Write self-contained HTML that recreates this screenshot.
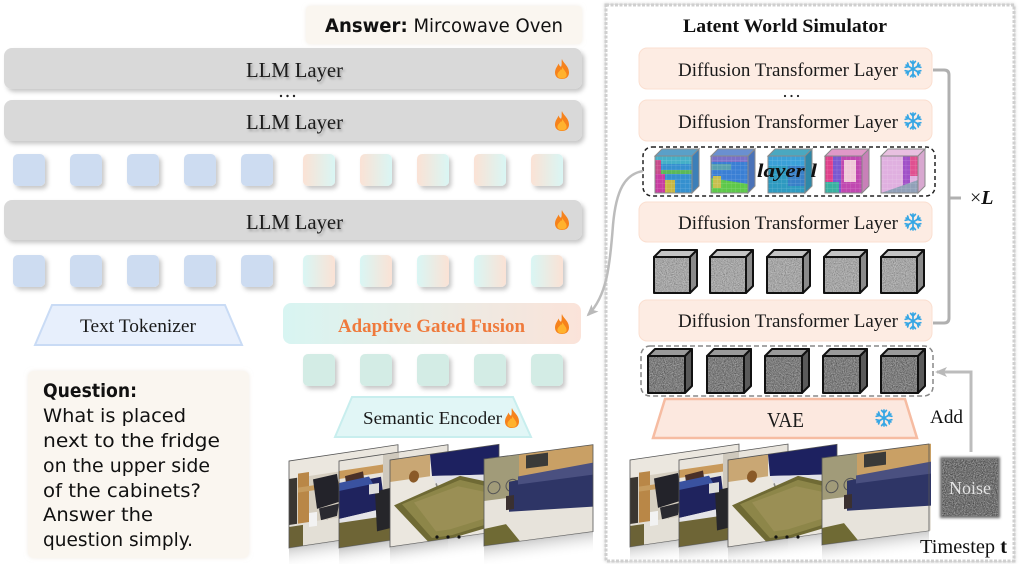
<!DOCTYPE html>
<html><head><meta charset="utf-8"><style>
html,body{margin:0;padding:0;background:#fff;}
svg{display:block;}
</style></head><body>
<svg width="1020" height="564" viewBox="0 0 1020 564" xmlns="http://www.w3.org/2000/svg" xmlns:xlink="http://www.w3.org/1999/xlink" font-family="'Liberation Serif', serif">
<defs>
  <filter id="sh" x="-5%" y="-20%" width="115%" height="160%">
    <feDropShadow dx="2.5" dy="3" stdDeviation="2" flood-color="#000" flood-opacity="0.22"/>
  </filter>
  <filter id="tsh" x="-10%" y="-30%" width="130%" height="170%">
    <feDropShadow dx="1.5" dy="2" stdDeviation="1.2" flood-color="#000" flood-opacity="0.28"/>
  </filter>
  <filter id="soft" x="-5%" y="-10%" width="110%" height="120%">
    <feDropShadow dx="0" dy="0" stdDeviation="2" flood-color="#e8e0d4" flood-opacity="0.6"/>
  </filter>
  <filter id="outer" x="-3%" y="-3%" width="106%" height="106%">
    <feDropShadow dx="0" dy="0" stdDeviation="1.5" flood-color="#000" flood-opacity="0.18"/>
  </filter>
  <filter id="grainD" x="0" y="0" width="100%" height="100%">
    <feTurbulence type="fractalNoise" baseFrequency="0.9" numOctaves="3" seed="4" result="t"/>
    <feColorMatrix in="t" type="matrix" values="0 0 0 0 0  0 0 0 0 0  0 0 0 0 0  2.2 0 0 0 -0.85" result="n"/>
    <feComposite in="n" in2="SourceGraphic" operator="in"/>
  </filter>
  <filter id="grainL" x="0" y="0" width="100%" height="100%">
    <feTurbulence type="fractalNoise" baseFrequency="0.9" numOctaves="3" seed="9" result="t"/>
    <feColorMatrix in="t" type="matrix" values="0 0 0 0 1  0 0 0 0 1  0 0 0 0 1  0 2.2 0 0 -0.85" result="n"/>
    <feComposite in="n" in2="SourceGraphic" operator="in"/>
  </filter>
  <filter id="blur1"><feGaussianBlur stdDeviation="1.2"/></filter>
  <linearGradient id="g1" x1="0" x2="1" y1="0" y2="0"><stop offset="0" stop-color="#fbe2d5"/><stop offset="1" stop-color="#d9f6f4"/></linearGradient>
  <linearGradient id="g2" x1="0" x2="1" y1="0" y2="0"><stop offset="0" stop-color="#d9f6f4"/><stop offset="1" stop-color="#fbe2d5"/></linearGradient>
  <linearGradient id="agf" x1="0" x2="1" y1="0" y2="0"><stop offset="0" stop-color="#d8f5f2"/><stop offset="1" stop-color="#fbe3d9"/></linearGradient>
  <linearGradient id="refl" x1="0" x2="0" y1="0" y2="1"><stop offset="0" stop-color="#b8b8b8" stop-opacity="0.7"/><stop offset="1" stop-color="#ffffff" stop-opacity="0"/></linearGradient>
  <pattern id="grid" width="4.6" height="4.6" patternUnits="userSpaceOnUse">
    <path d="M4.6,0V4.6H0" fill="none" stroke="#ffffff" stroke-opacity="0.28" stroke-width="0.6"/>
  </pattern>
  <marker id="ah" markerWidth="12" markerHeight="10" refX="10" refY="5" orient="auto" markerUnits="userSpaceOnUse">
    <path d="M0,0 L12,5 L0,10 L3,5Z" fill="#b9b9b9"/>
  </marker>
  <g id="flame">
    <path d="M0,-10 C1,-6 7,-3 7,3.5 C7,8 3.8,10 0,10 C-3.8,10 -7,8 -7,3.5 C-7,-0.5 -4.5,-2.5 -3.5,-5.5 C-2.5,-3 -1.5,-2 -0.8,-2.5 C0.2,-5 -0.8,-8 0,-10Z" fill="#f6821c"/>
    <path d="M0.3,-2 C2,1.5 4.6,3 4.6,6 C4.6,8.4 2.4,9.4 0,9.4 C-2.4,9.4 -4.6,8.4 -4.6,6 C-4.6,3.2 -2,2.2 -1.2,0.2 C-0.6,1.2 0,1 0.3,-2Z" fill="#ffb22e"/>
  </g>
  <g id="snow" stroke="#35a6e4" stroke-width="1.7" stroke-linecap="round" fill="none">
    <path d="M0,-8V8M-6.9,-4L6.9,4M-6.9,4L6.9,-4"/>
    <path d="M-2.4,-7.6L0,-5L2.4,-7.6"/>
    <path d="M-2.4,-7.6L0,-5L2.4,-7.6" transform="rotate(60)"/>
    <path d="M-2.4,-7.6L0,-5L2.4,-7.6" transform="rotate(120)"/>
    <path d="M-2.4,-7.6L0,-5L2.4,-7.6" transform="rotate(180)"/>
    <path d="M-2.4,-7.6L0,-5L2.4,-7.6" transform="rotate(240)"/>
    <path d="M-2.4,-7.6L0,-5L2.4,-7.6" transform="rotate(300)"/>
  </g>
  <clipPath id="fc"><rect x="0" y="0" width="109" height="87"/></clipPath>
  <g id="frA">
    <rect x="0" y="0" width="109" height="87" fill="#d6cfc1"/>
    <rect x="0" y="0" width="109" height="18" fill="#ebe7df"/>
    <rect x="0" y="18" width="8" height="52" fill="#3a3631"/>
    <rect x="9" y="14" width="11" height="58" fill="#b98747"/>
    <rect x="9" y="28" width="45" height="5" fill="#c69c5f"/>
    <path d="M24,22 L48,20 L52,48 L28,52Z" fill="#23232a"/>
    <path d="M30,52 L50,50 L48,62 L32,64Z" fill="#2a2a30"/>
    <path d="M38,64 L38,74 M30,76 L46,72" stroke="#222" stroke-width="2"/>
    <rect x="0" y="64" width="109" height="23" fill="#e3dfd6"/>
    <rect x="0" y="66" width="14" height="21" fill="#6b6236"/>
    <rect x="20" y="55" width="8" height="14" fill="#f2f2f2"/>
  </g>
  <g id="frB">
    <rect x="0" y="0" width="109" height="87" fill="#e8e4dc"/>
    <rect x="0" y="10" width="109" height="8" fill="#c99a5b"/>
    <rect x="44" y="0" width="16" height="40" fill="#cfc9bd"/>
    <path d="M6,16 L24,14 L26,28 L8,30Z" fill="#4a3028"/>
    <path d="M0,24 L42,22 L46,54 L0,58Z" fill="#1f235e"/>
    <path d="M0,22 L30,20 L34,28 L0,30Z" fill="#3a52a0"/>
    <path d="M0,58 L46,54 L46,62 L0,66Z" fill="#e4e4e8"/>
    <rect x="0" y="62" width="109" height="25" fill="#6e6536"/>
    <path d="M36,36 L58,34 L60,74 L38,76Z" fill="#26262a"/>
    <rect x="30" y="28" width="10" height="10" fill="#dcdcdc"/>
  </g>
  <g id="frC">
    <rect x="0" y="0" width="109" height="87" fill="#ebe7df"/>
    <rect x="0" y="0" width="40" height="22" fill="#c9a774"/>
    <rect x="40" y="0" width="69" height="10" fill="#e6e0d2"/>
    <ellipse cx="24" cy="20" rx="5" ry="6" fill="#8a5a28"/>
    <path d="M40,0 L109,0 L109,30 L42,22Z" fill="#1d2160"/>
    <path d="M42,22 L109,30 L109,38 L46,30Z" fill="#e2e2e8"/>
    <path d="M46,30 L48,36 M106,38 L106,44" stroke="#888" stroke-width="1.5"/>
    <path d="M4,46 L70,26 L109,40 L109,80 L62,87 L38,87Z" fill="#6f6a34"/>
    <path d="M12,46 L70,30 L104,43 L104,77 L62,84 L42,84Z" fill="#8d8649"/>
    <path d="M24,46 L68,36 L96,46 L96,72 L60,78 L46,78Z" fill="#9a8f55"/>
  </g>
  <g id="frD">
    <rect x="0" y="0" width="109" height="87" fill="#e7e3db"/>
    <rect x="0" y="0" width="109" height="40" fill="#c9a065"/>
    <rect x="0" y="0" width="35" height="42" fill="#a19b79"/>
    <rect x="42" y="2" width="22" height="13" fill="#3a3a38"/>
    <circle cx="10" cy="30" r="6" fill="none" stroke="#555" stroke-width="1"/>
    <circle cx="28" cy="30" r="6" fill="none" stroke="#555" stroke-width="1"/>
    <path d="M25,26 L109,22 L109,62 L25,56Z" fill="#2e3566"/>
    <path d="M34,22 L109,18 L109,30 L34,30Z" fill="#4a5080"/>
    <rect x="22" y="40" width="8" height="14" fill="#3a3030"/>
    <path d="M0,70 L22,68 L36,87 L0,87Z" fill="#6f6a34"/>
  </g>
</defs>

<!-- ================= LEFT PANEL ================= -->
<rect x="306" y="6" width="276" height="38" rx="4" fill="#faf6f0" filter="url(#soft)"/>
<text x="325" y="32" font-family="'DejaVu Sans', sans-serif" font-size="19" fill="#111" textLength="238" lengthAdjust="spacingAndGlyphs"><tspan font-weight="bold">Answer:</tspan> Mircowave Oven</text>

<rect x="4" y="48" width="578" height="41" rx="8" fill="#d9d9d9" filter="url(#sh)"/>
<rect x="4" y="100" width="578" height="41" rx="8" fill="#d9d9d9" filter="url(#sh)"/>
<rect x="4" y="200" width="578" height="40" rx="8" fill="#d9d9d9" filter="url(#sh)"/>
<g font-size="21" fill="#1a1a1a" filter="url(#tsh)">
  <text x="246" y="77" textLength="97" lengthAdjust="spacingAndGlyphs">LLM Layer</text>
  <text x="246" y="129" textLength="97" lengthAdjust="spacingAndGlyphs">LLM Layer</text>
  <text x="246" y="229" textLength="97" lengthAdjust="spacingAndGlyphs">LLM Layer</text>
</g>
<use href="#flame" xlink:href="#flame" x="562" y="69"/>
<use href="#flame" xlink:href="#flame" x="562" y="121"/>
<use href="#flame" xlink:href="#flame" x="562" y="220"/>
<g fill="#222"><circle cx="281" cy="96" r="1.2"/><circle cx="287.5" cy="96" r="1.2"/><circle cx="294" cy="96" r="1.2"/></g>

<g filter="url(#sh)">
  <rect x="13" y="154" width="32" height="32" rx="5" fill="#cddcf1"/>
  <rect x="70" y="154" width="32" height="32" rx="5" fill="#cddcf1"/>
  <rect x="127" y="154" width="32" height="32" rx="5" fill="#cddcf1"/>
  <rect x="184" y="154" width="32" height="32" rx="5" fill="#cddcf1"/>
  <rect x="241" y="154" width="32" height="32" rx="5" fill="#cddcf1"/>
  <rect x="303" y="154" width="32" height="32" rx="5" fill="url(#g1)"/>
  <rect x="360" y="154" width="32" height="32" rx="5" fill="url(#g1)"/>
  <rect x="417" y="154" width="32" height="32" rx="5" fill="url(#g1)"/>
  <rect x="474" y="154" width="32" height="32" rx="5" fill="url(#g1)"/>
  <rect x="531" y="154" width="32" height="32" rx="5" fill="url(#g1)"/>

  <rect x="13" y="255" width="32" height="32" rx="5" fill="#cddcf1"/>
  <rect x="70" y="255" width="32" height="32" rx="5" fill="#cddcf1"/>
  <rect x="127" y="255" width="32" height="32" rx="5" fill="#cddcf1"/>
  <rect x="184" y="255" width="32" height="32" rx="5" fill="#cddcf1"/>
  <rect x="241" y="255" width="32" height="32" rx="5" fill="#cddcf1"/>
  <rect x="303" y="255" width="32" height="32" rx="5" fill="url(#g2)"/>
  <rect x="360" y="255" width="32" height="32" rx="5" fill="url(#g2)"/>
  <rect x="417" y="255" width="32" height="32" rx="5" fill="url(#g2)"/>
  <rect x="474" y="255" width="32" height="32" rx="5" fill="url(#g2)"/>
  <rect x="531" y="255" width="32" height="32" rx="5" fill="url(#g2)"/>

  <rect x="303" y="354" width="32" height="32" rx="5" fill="#d3ece5"/>
  <rect x="360" y="354" width="32" height="32" rx="5" fill="#d3ece5"/>
  <rect x="417" y="354" width="32" height="32" rx="5" fill="#d3ece5"/>
  <rect x="474" y="354" width="32" height="32" rx="5" fill="#d3ece5"/>
  <rect x="531" y="354" width="32" height="32" rx="5" fill="#d3ece5"/>
</g>

<polygon points="52,305 225,305 242,345 35,345" fill="#e7effc" stroke="#c9dbf5" stroke-width="2"/>
<text x="80" y="332" font-size="19" fill="#1a1a1a" textLength="116" lengthAdjust="spacingAndGlyphs">Text Tokenizer</text>

<rect x="283" y="303" width="298" height="41" rx="8" fill="url(#agf)"/>
<text x="338" y="332" font-size="19" font-weight="bold" fill="#ef7a3c" textLength="187" lengthAdjust="spacingAndGlyphs">Adaptive Gated Fusion</text>
<use href="#flame" xlink:href="#flame" x="562" y="324"/>

<polygon points="352,397 513,397 531,437 335,437" fill="#e1f6f6" stroke="#c8eeee" stroke-width="2"/>
<text x="363" y="424" font-size="18" fill="#1a1a1a" textLength="139" lengthAdjust="spacingAndGlyphs">Semantic Encoder</text>
<use href="#flame" xlink:href="#flame" x="512" y="418"/>

<rect x="28" y="371" width="221" height="187" rx="6" fill="#faf6f0" filter="url(#soft)"/>
<g font-family="'DejaVu Sans', sans-serif" font-size="19" fill="#111">
  <text x="43" y="397" font-weight="bold" textLength="94" lengthAdjust="spacingAndGlyphs">Question:</text>
  <text x="43" y="422" textLength="143" lengthAdjust="spacingAndGlyphs">What is placed</text>
  <text x="43" y="447" textLength="177" lengthAdjust="spacingAndGlyphs">next to the fridge</text>
  <text x="43" y="472" textLength="167" lengthAdjust="spacingAndGlyphs">on the upper side</text>
  <text x="43" y="497" textLength="158" lengthAdjust="spacingAndGlyphs">of the cabinets?</text>
  <text x="43" y="521" textLength="110" lengthAdjust="spacingAndGlyphs">Answer the</text>
  <text x="43" y="546" textLength="150" lengthAdjust="spacingAndGlyphs">question simply.</text>
</g>

<g>
  <g transform="translate(289,461) skewY(-8.5)"><g clip-path="url(#fc)"><use href="#frA" xlink:href="#frA"/></g><rect x="0" y="0" width="109" height="87" fill="none" stroke="#555" stroke-width="0.8"/><rect x="0" y="87" width="109" height="22" fill="url(#refl)"/></g>
  <g transform="translate(339,461) skewY(-8.5)"><g clip-path="url(#fc)"><use href="#frB" xlink:href="#frB"/></g><rect x="0" y="0" width="109" height="87" fill="none" stroke="#555" stroke-width="0.8"/><rect x="0" y="87" width="109" height="22" fill="url(#refl)"/></g>
  <g transform="translate(390,460) skewY(-8.2)"><g clip-path="url(#fc)"><use href="#frC" xlink:href="#frC"/></g><rect x="0" y="0" width="109" height="87" fill="none" stroke="#555" stroke-width="0.8"/><rect x="0" y="87" width="109" height="22" fill="url(#refl)"/></g>
  <g transform="translate(484,459) skewY(-7.5)"><g clip-path="url(#fc)"><use href="#frD" xlink:href="#frD"/></g><rect x="0" y="0" width="109" height="87" fill="none" stroke="#555" stroke-width="0.8"/><rect x="0" y="87" width="109" height="22" fill="url(#refl)"/></g>
  <g fill="#111"><circle cx="437" cy="537" r="1.6"/><circle cx="448" cy="537" r="1.6"/><circle cx="459" cy="537" r="1.6"/></g>
</g>

<!-- ================= RIGHT PANEL ================= -->
<rect x="606" y="5" width="408" height="556" fill="#fff" stroke="#cfcfcf" stroke-width="3" stroke-dasharray="3 1.5" filter="url(#outer)"/>
<text x="785" y="32" font-size="19" font-weight="bold" text-anchor="middle" fill="#111" textLength="204" lengthAdjust="spacingAndGlyphs">Latent World Simulator</text>

<g fill="#fdece3" stroke="#fbdfd0" stroke-width="1">
  <rect x="639" y="48" width="293" height="41" rx="8"/>
  <rect x="639" y="100" width="293" height="41" rx="8"/>
  <rect x="639" y="202" width="293" height="40" rx="8"/>
  <rect x="639" y="300" width="293" height="41" rx="8"/>
</g>
<g font-size="19" fill="#1a1a1a">
  <text x="678" y="76" textLength="220" lengthAdjust="spacingAndGlyphs">Diffusion Transformer Layer</text>
  <text x="678" y="128" textLength="220" lengthAdjust="spacingAndGlyphs">Diffusion Transformer Layer</text>
  <text x="678" y="229" textLength="220" lengthAdjust="spacingAndGlyphs">Diffusion Transformer Layer</text>
  <text x="678" y="327" textLength="220" lengthAdjust="spacingAndGlyphs">Diffusion Transformer Layer</text>
</g>
<use href="#snow" xlink:href="#snow" x="913" y="69"/>
<use href="#snow" xlink:href="#snow" x="913" y="121"/>
<use href="#snow" xlink:href="#snow" x="913" y="222"/>
<use href="#snow" xlink:href="#snow" x="913" y="321"/>
<g fill="#222"><circle cx="785" cy="96" r="1.1"/><circle cx="791.5" cy="96" r="1.1"/><circle cx="798" cy="96" r="1.1"/></g>

<rect x="643" y="147" width="292" height="49" rx="9" fill="none" stroke="#222" stroke-width="1.5" stroke-dasharray="4 3"/>
<g stroke="#8a8a8a" stroke-width="1">
  <g>
    <polygon points="655,156 662,149 699,149 692,156" fill="#5aa0c8"/>
    <polygon points="692,156 699,149 699,186 692,193" fill="#3c7fb8"/>
    <rect x="655" y="156" width="37" height="37" fill="#3590cf"/>
    <rect x="655" y="156" width="37" height="8" fill="#45b0c8" stroke="none"/>
    <rect x="655" y="170" width="37" height="4" fill="#5ab85a" stroke="none"/>
    <rect x="655" y="174" width="10" height="19" fill="#c83ca0" stroke="none"/>
    <rect x="665" y="180" width="10" height="13" fill="#c8b844" stroke="none"/>
    <rect x="655" y="160" width="6" height="14" fill="#c84a8a" stroke="none"/>
    <rect x="655" y="156" width="37" height="37" fill="url(#grid)"/>
  </g>
  <g>
    <polygon points="711,156 718,149 755,149 748,156" fill="#6a90d0"/>
    <polygon points="748,156 755,149 755,186 748,193" fill="#4a72b8"/>
    <rect x="711" y="156" width="37" height="37" fill="#3a7fd4"/>
    <rect x="711" y="156" width="37" height="6" fill="#7a70c8" stroke="none"/>
    <rect x="711" y="164" width="20" height="6" fill="#58a0b0" stroke="none"/>
    <polygon points="711,178 748,184 748,193 711,193" fill="#5ec84a" stroke="none"/>
    <rect x="713" y="176" width="8" height="12" fill="#c8c050" stroke="none"/>
    <rect x="711" y="156" width="37" height="37" fill="url(#grid)"/>
  </g>
  <g>
    <polygon points="768,156 775,149 812,149 805,156" fill="#4aa8c0"/>
    <polygon points="805,156 812,149 812,186 805,193" fill="#2e88a8"/>
    <rect x="768" y="156" width="37" height="37" fill="#2e9ac0"/>
    <rect x="768" y="156" width="37" height="10" fill="#3aa0d8" stroke="none"/>
    <rect x="788" y="166" width="17" height="20" fill="#3880c8" stroke="none"/>
    <rect x="768" y="156" width="37" height="37" fill="url(#grid)"/>
  </g>
  <g>
    <polygon points="825,156 832,149 869,149 862,156" fill="#e098c8"/>
    <polygon points="862,156 869,149 869,186 862,193" fill="#c880b8"/>
    <rect x="825" y="156" width="37" height="37" fill="#c048b0"/>
    <rect x="825" y="156" width="8" height="37" fill="#e0408a" stroke="none"/>
    <rect x="833" y="156" width="8" height="37" fill="#7a58d0" stroke="none"/>
    <rect x="844" y="160" width="12" height="22" fill="#f0c8d8" stroke="none"/>
    <rect x="825" y="182" width="14" height="11" fill="#3ab0a0" stroke="none"/>
    <rect x="825" y="156" width="37" height="37" fill="url(#grid)"/>
  </g>
  <g>
    <polygon points="881,156 888,149 925,149 918,156" fill="#e8c0e0"/>
    <polygon points="918,156 925,149 925,186 918,193" fill="#d8a8d0"/>
    <rect x="881" y="156" width="37" height="37" fill="#e0b0e0"/>
    <rect x="903" y="156" width="7" height="30" fill="#a050c8" stroke="none"/>
    <rect x="910" y="156" width="8" height="20" fill="#e05090" stroke="none"/>
    <polygon points="881,193 918,180 918,193" fill="#90a0b8" stroke="none"/>
    <rect x="881" y="156" width="37" height="37" fill="url(#grid)"/>
  </g>
</g>
<text x="757" y="177" font-size="19" font-weight="bold" font-style="italic" fill="#111" textLength="60" lengthAdjust="spacingAndGlyphs">layer l</text>

<g stroke="#111" stroke-width="2" stroke-linejoin="round">
  <g><polygon points="654,257 661,250 697,250 690,257" fill="#c4c4c4"/><polygon points="690,257 697,250 697,286 690,293" fill="#8a8a8a"/><rect x="654" y="257" width="36" height="36" fill="#acacac"/></g>
  <g><polygon points="710,257 717,250 753,250 746,257" fill="#c4c4c4"/><polygon points="746,257 753,250 753,286 746,293" fill="#8a8a8a"/><rect x="710" y="257" width="36" height="36" fill="#acacac"/></g>
  <g><polygon points="767,257 774,250 810,250 803,257" fill="#c4c4c4"/><polygon points="803,257 810,250 810,286 803,293" fill="#8a8a8a"/><rect x="767" y="257" width="36" height="36" fill="#acacac"/></g>
  <g><polygon points="824,257 831,250 867,250 860,257" fill="#c4c4c4"/><polygon points="860,257 867,250 867,286 860,293" fill="#8a8a8a"/><rect x="824" y="257" width="36" height="36" fill="#acacac"/></g>
  <g><polygon points="881,257 888,250 924,250 917,257" fill="#c4c4c4"/><polygon points="917,257 924,250 924,286 917,293" fill="#8a8a8a"/><rect x="881" y="257" width="36" height="36" fill="#acacac"/></g>
</g>
<g filter="url(#grainD)" opacity="0.3">
  <rect x="655" y="258" width="34" height="34" fill="#fff"/>
  <rect x="711" y="258" width="34" height="34" fill="#fff"/>
  <rect x="768" y="258" width="34" height="34" fill="#fff"/>
  <rect x="825" y="258" width="34" height="34" fill="#fff"/>
  <rect x="882" y="258" width="34" height="34" fill="#fff"/>
</g>
<g filter="url(#grainL)" opacity="0.3">
  <rect x="655" y="258" width="34" height="34" fill="#fff"/>
  <rect x="711" y="258" width="34" height="34" fill="#fff"/>
  <rect x="768" y="258" width="34" height="34" fill="#fff"/>
  <rect x="825" y="258" width="34" height="34" fill="#fff"/>
  <rect x="882" y="258" width="34" height="34" fill="#fff"/>
</g>

<rect x="641" y="346" width="292" height="50" rx="9" fill="none" stroke="#888" stroke-width="1.5" stroke-dasharray="5 3"/>
<g stroke="#111" stroke-width="2" stroke-linejoin="round">
  <g><polygon points="648,356 655,349 692,349 685,356" fill="#9a9a9a"/><polygon points="685,356 692,349 692,386 685,393" fill="#5a5a5a"/><rect x="648" y="356" width="37" height="37" fill="#7c7c7c"/></g>
  <g><polygon points="707,356 714,349 751,349 744,356" fill="#9a9a9a"/><polygon points="744,356 751,349 751,386 744,393" fill="#5a5a5a"/><rect x="707" y="356" width="37" height="37" fill="#7c7c7c"/></g>
  <g><polygon points="765,356 772,349 809,349 802,356" fill="#9a9a9a"/><polygon points="802,356 809,349 809,386 802,393" fill="#5a5a5a"/><rect x="765" y="356" width="37" height="37" fill="#7c7c7c"/></g>
  <g><polygon points="823,356 830,349 867,349 860,356" fill="#9a9a9a"/><polygon points="860,356 867,349 867,386 860,393" fill="#5a5a5a"/><rect x="823" y="356" width="37" height="37" fill="#7c7c7c"/></g>
  <g><polygon points="881,356 888,349 925,349 918,356" fill="#9a9a9a"/><polygon points="918,356 925,349 925,386 918,393" fill="#5a5a5a"/><rect x="881" y="356" width="37" height="37" fill="#7c7c7c"/></g>
</g>
<g filter="url(#grainD)" opacity="0.4">
  <rect x="649" y="357" width="35" height="35" fill="#fff"/>
  <rect x="708" y="357" width="35" height="35" fill="#fff"/>
  <rect x="766" y="357" width="35" height="35" fill="#fff"/>
  <rect x="824" y="357" width="35" height="35" fill="#fff"/>
  <rect x="882" y="357" width="35" height="35" fill="#fff"/>
</g>
<g filter="url(#grainL)" opacity="0.4">
  <rect x="649" y="357" width="35" height="35" fill="#fff"/>
  <rect x="708" y="357" width="35" height="35" fill="#fff"/>
  <rect x="766" y="357" width="35" height="35" fill="#fff"/>
  <rect x="824" y="357" width="35" height="35" fill="#fff"/>
  <rect x="882" y="357" width="35" height="35" fill="#fff"/>
</g>

<polygon points="665,399 905,399 917,438 653,438" fill="#fce8df" stroke="#f6bca2" stroke-width="2.5"/>
<text x="767" y="427" font-size="21" fill="#1a1a1a" textLength="37" lengthAdjust="spacingAndGlyphs">VAE</text>
<use href="#snow" xlink:href="#snow" x="884" y="418"/>

<g>
  <g transform="translate(630,460) skewY(-8.3)"><g clip-path="url(#fc)"><use href="#frA" xlink:href="#frA"/></g><rect x="0" y="0" width="109" height="87" fill="none" stroke="#555" stroke-width="0.8"/><rect x="0" y="87" width="109" height="22" fill="url(#refl)"/></g>
  <g transform="translate(679,460) skewY(-8.3)"><g clip-path="url(#fc)"><use href="#frB" xlink:href="#frB"/></g><rect x="0" y="0" width="109" height="87" fill="none" stroke="#555" stroke-width="0.8"/><rect x="0" y="87" width="109" height="22" fill="url(#refl)"/></g>
  <g transform="translate(728,460) skewY(-8.2)"><g clip-path="url(#fc)"><use href="#frC" xlink:href="#frC"/></g><rect x="0" y="0" width="109" height="87" fill="none" stroke="#555" stroke-width="0.8"/><rect x="0" y="87" width="109" height="22" fill="url(#refl)"/></g>
  <g transform="translate(822,458) skewY(-7.5)"><g clip-path="url(#fc)"><use href="#frD" xlink:href="#frD"/></g><rect x="0" y="0" width="107" height="87" fill="none" stroke="#555" stroke-width="0.8"/><rect x="0" y="87" width="107" height="22" fill="url(#refl)"/></g>
  <g fill="#111"><circle cx="776" cy="537" r="1.6"/><circle cx="787" cy="537" r="1.6"/><circle cx="798" cy="537" r="1.6"/></g>
</g>

<rect x="940" y="457" width="60" height="61" fill="#6c6c6c" filter="url(#blur1)"/>
<rect x="942" y="459" width="56" height="57" fill="#fff" filter="url(#grainD)" opacity="0.45"/>
<rect x="942" y="459" width="56" height="57" fill="#fff" filter="url(#grainL)" opacity="0.45"/>
<text x="970" y="494" font-size="18" fill="#e4e4e4" text-anchor="middle">Noise</text>

<path d="M971,452 L971,372 L937,372" fill="none" stroke="#bcbcbc" stroke-width="3" marker-end="url(#ah)"/>
<text x="930" y="423" font-size="19" fill="#111" textLength="33" lengthAdjust="spacingAndGlyphs">Add</text>
<text x="920" y="553" font-size="20" fill="#111" textLength="87" lengthAdjust="spacingAndGlyphs">Timestep <tspan font-weight="bold">t</tspan></text>

<path d="M933,70 L944,70 Q949,70 949,75 L949,318 Q949,323 944,323 L933,323 M949,198 L961,198" fill="none" stroke="#b0b0b0" stroke-width="3"/>
<text x="970" y="204" font-size="20" fill="#111">×<tspan font-weight="bold" font-style="italic">L</tspan></text>

<path d="M643,171 C625,174 616,190 613,225 C610,265 607,296 588,315" fill="none" stroke="#bcbcbc" stroke-width="2.5" marker-end="url(#ah)"/>
</svg>
</body></html>
